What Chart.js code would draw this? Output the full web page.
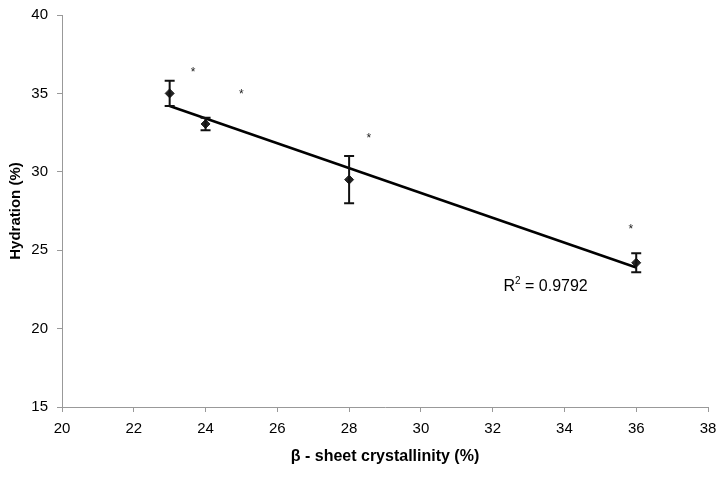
<!DOCTYPE html>
<html>
<head>
<meta charset="utf-8">
<script src="https://cdn.jsdelivr.net/npm/chart.js@4.4.0/dist/chart.umd.min.js"></script>
<style>
  html, body { margin: 0; padding: 0; background: #fff; }
  #wrap { width: 725px; height: 477px; }
</style>
</head>
<body>
<div id="wrap"><canvas id="chart" width="725" height="477"></canvas></div>
<script>
// crystallinity (%) and hydration (%) with error bar half-widths
const crystallinity = [23, 24, 28, 36];
const hydration = [35.0, 33.05, 29.5, 24.2];
const hydrationErr = [0.8, 0.4, 1.5, 0.6];

// linear trend line, read at both ends
const trendX = [23, 36];
const trendY = [34.2, 23.9];

// significance asterisks placed above the points
const starX = [23.65, 25.0, 28.55, 35.85];
const starY = [36.4, 35.0, 32.2, 26.4];

const r2Pos = [32.3, 22.7];

const xTicks = [20, 22, 24, 26, 28, 30, 32, 34, 36, 38];
const yTicks = [15, 20, 25, 30, 35, 40];

const FONT = '"Liberation Sans", Arial, sans-serif';

const errorBars = {
  id: 'errorBars',
  afterDatasetsDraw(chart) {
    const { ctx, scales: { x, y } } = chart;
    ctx.save();
    ctx.strokeStyle = '#111';
    ctx.lineWidth = 2;
    crystallinity.forEach((cx, i) => {
      const px = x.getPixelForValue(cx);
      const top = y.getPixelForValue(hydration[i] + hydrationErr[i]);
      const bot = y.getPixelForValue(hydration[i] - hydrationErr[i]);
      ctx.beginPath();
      ctx.moveTo(px, top); ctx.lineTo(px, bot);
      ctx.moveTo(px - 5, top); ctx.lineTo(px + 5, top);
      ctx.moveTo(px - 5, bot); ctx.lineTo(px + 5, bot);
      ctx.stroke();
    });
    ctx.restore();
  }
};

const annotations = {
  id: 'annotations',
  afterDraw(chart) {
    const { ctx, scales: { x, y } } = chart;
    ctx.save();
    ctx.fillStyle = '#222';
    ctx.textAlign = 'center';
    ctx.textBaseline = 'middle';
    ctx.font = '12px ' + FONT;
    starX.forEach((sx, i) => {
      ctx.fillText('*', x.getPixelForValue(sx), y.getPixelForValue(starY[i]) + 1);
    });
    // R² label
    ctx.fillStyle = '#000';
    ctx.textAlign = 'left';
    ctx.font = '16px ' + FONT;
    const lx = x.getPixelForValue(r2Pos[0]);
    const ly = y.getPixelForValue(r2Pos[1]);
    ctx.fillText('R', lx, ly);
    const rw = ctx.measureText('R').width;
    ctx.font = '10px ' + FONT;
    ctx.fillText('2', lx + rw, ly - 5);
    const sw = ctx.measureText('2').width;
    ctx.font = '16px ' + FONT;
    ctx.fillText(' = 0.9792', lx + rw + sw, ly);
    ctx.restore();
  }
};

new Chart(document.getElementById('chart'), {
  type: 'scatter',
  data: {
    datasets: [
      {
        label: 'Trend',
        type: 'line',
        data: trendX.map((v, i) => ({ x: v, y: trendY[i] })),
        borderColor: '#000',
        borderWidth: 2.5,
        pointRadius: 0,
        fill: false
      },
      {
        label: 'Hydration',
        data: crystallinity.map((v, i) => ({ x: v, y: hydration[i] })),
        pointStyle: 'rectRot',
        pointRadius: 4.5,
        backgroundColor: '#222',
        borderColor: '#222'
      }
    ]
  },
  options: {
    responsive: false,
    animation: false,
    layout: { padding: { left: 0, top: 15, right: 17, bottom: 0 } },
    plugins: { legend: { display: false }, tooltip: { enabled: false } },
    scales: {
      x: {
        type: 'linear',
        min: 20,
        max: 38,
        afterBuildTicks: s => { s.ticks = xTicks.map(v => ({ value: v })); },
        afterFit: s => { s.height = 70; s.paddingLeft = 0; s.paddingRight = 0; },
        grid: { drawOnChartArea: false, color: '#999', tickLength: 5 },
        border: { color: '#999', width: 1 },
        ticks: { color: '#000', font: { family: FONT, size: 15 }, padding: 8, maxRotation: 0 },
        title: {
          display: true,
          text: 'β - sheet crystallinity (%)',
          color: '#000',
          font: { family: FONT, size: 16, weight: 'bold' },
          padding: { top: 0, bottom: 11 }
        }
      },
      y: {
        type: 'linear',
        min: 15,
        max: 40,
        afterBuildTicks: s => { s.ticks = yTicks.map(v => ({ value: v })); },
        afterFit: s => { s.width = 62; s.paddingTop = 0; s.paddingBottom = 0; },
        grid: { drawOnChartArea: false, color: '#999', tickLength: 5 },
        border: { color: '#999', width: 1 },
        ticks: { color: '#000', font: { family: FONT, size: 15 }, padding: 9 },
        title: {
          display: true,
          text: 'Hydration (%)',
          color: '#000',
          font: { family: FONT, size: 15, weight: 'bold' },
          padding: { top: 7, bottom: 0 }
        }
      }
    }
  },
  plugins: [errorBars, annotations]
});
</script>
</body>
</html>
